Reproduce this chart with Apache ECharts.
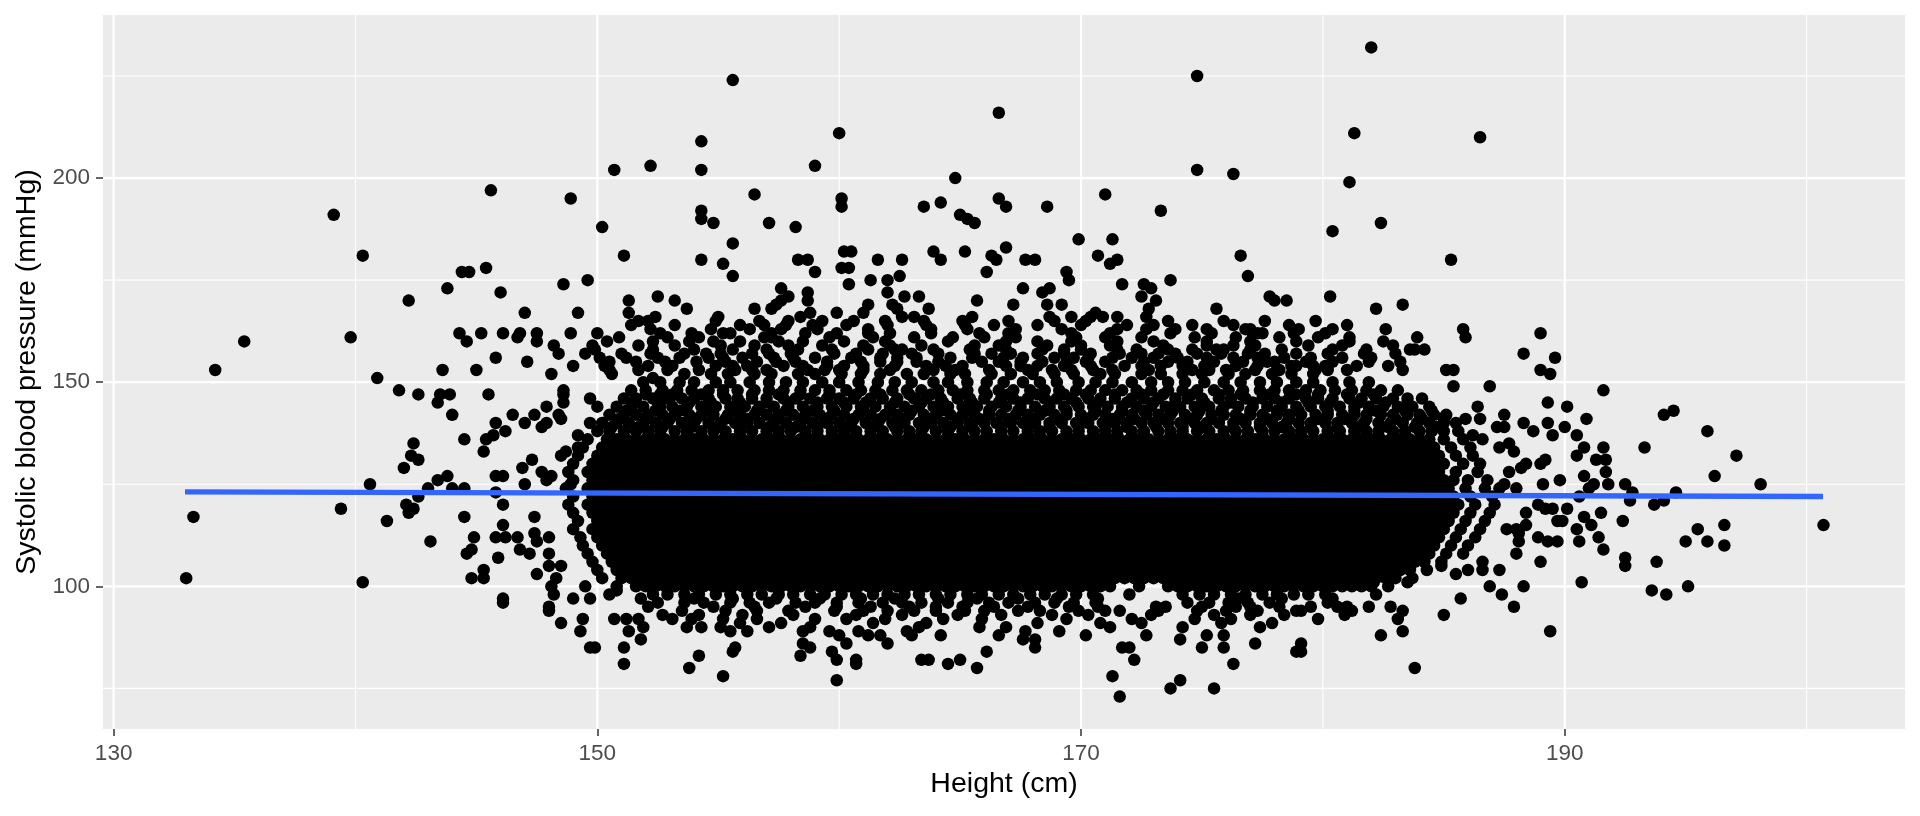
<!DOCTYPE html>
<html>
<head>
<meta charset="utf-8">
<title>Height vs systolic blood pressure</title>
<script src="https://cdn.jsdelivr.net/npm/echarts@6.0.0/dist/echarts.min.js"></script>
<style>
html, body { margin: 0; padding: 0; background: #ffffff; }
#chart { width: 1920px; height: 816px; }
</style>
</head>
<body>
<div id="chart"></div>
<script>
// axis extents and ticks (ggplot default 5% expansion)
var xMin = 129.56, xMax = 204.07;
var yMin = 65.05, yMax = 239.95;
var xMajor = [130, 150, 170, 190];
var xMinor = [140, 160, 180, 200];
var yMajor = [100, 150, 200];
var yMinor = [75, 125, 175, 225];

// least squares line, end points
var fitHeight = [132.95, 200.68];
var fitSbp = [123.15, 122.0];

// each row: [systolic bp, height, height, ...]
// sparse upper part of the cloud
var upperRows = [
  [232, 182.0],
  [225, 174.8],
  [224, 155.6],
  [216, 166.6],
  [211, 160.0, 181.3],
  [210, 186.5],
  [209, 154.3],
  [203, 152.2, 159.0],
  [202, 150.7, 154.3, 174.8],
  [201, 176.3],
  [200, 164.8],
  [199, 181.1],
  [197, 145.6],
  [196, 156.5, 171.0],
  [195, 148.9, 160.1, 166.6],
  [194, 164.2],
  [193, 160.1, 163.5, 166.9, 168.6],
  [192, 154.3, 173.3],
  [191, 139.1, 165.0],
  [190, 154.3, 165.3],
  [189, 154.8, 157.1, 165.6, 182.4],
  [188, 150.2, 158.2],
  [187, 180.4],
  [185, 169.9, 171.3],
  [184, 155.6],
  [183, 166.9],
  [182, 160.2, 160.5, 163.9, 165.2],
  [181, 140.3, 151.1, 166.3, 170.7, 176.6],
  [180, 154.3, 158.3, 158.7, 161.6, 162.6, 164.2, 166.5, 167.7, 168.1, 171.5, 185.3],
  [179, 155.2, 171.2],
  [178, 145.4, 160.1, 160.4],
  [177, 144.4, 144.7, 159.0, 166.1, 169.4],
  [176, 155.6, 162.5, 176.9],
  [175, 149.6, 161.3, 162.0, 169.5, 173.7],
  [174, 148.6, 160.4, 171.7, 172.6],
  [173, 143.8, 157.6, 167.6, 168.7, 172.9],
  [172, 146.0, 158.7, 162.0, 168.4],
  [171, 152.5, 157.9, 162.7, 163.3, 172.5, 177.8, 180.3],
  [170, 142.2, 151.3, 153.2, 157.6, 158.7, 165.7, 173.1, 178.0, 178.5],
  [169, 157.4, 161.2, 162.2, 167.2, 168.6, 169.2, 183.3],
  [168, 153.7, 156.5, 157.2, 162.4, 163.7, 172.8, 175.6, 182.2],
  [167, 147.0, 149.2, 151.3, 158.8, 159.9, 161.0, 170.6],
  [166, 152.4, 155.0, 158.4, 162.6, 163.1, 165.5, 168.7, 169.6, 170.4, 170.9, 171.5, 172.7],
  [165, 151.7, 152.1, 154.9, 156.7, 157.9, 159.3, 160.6, 161.9, 163.5, 165.1, 167.0, 168.9, 170.2, 173.6, 175.9, 177.6, 179.7],
  [164, 151.4, 153.2, 155.9, 156.9, 157.8, 158.9, 160.3, 162.0, 163.6, 165.2, 166.4, 168.2, 170.0, 171.9, 173.0, 174.6, 176.3, 178.6, 181.0],
  [163, 152.2, 154.7, 156.3, 157.6, 159.1, 161.2, 163.8, 165.3, 167.3, 169.2, 171.5, 172.7, 173.9, 175.2, 176.8, 177.0, 179.0, 180.4, 182.6, 185.8],
  [162, 144.3, 145.2, 146.1, 146.8, 147.5, 148.9, 150.0, 152.6, 153.9, 155.2, 155.5, 157.2, 158.6, 159.9, 161.2, 162.1, 163.8, 165.8, 167.0, 169.6, 171.2, 173.7, 175.4, 177.1, 177.3, 177.5, 178.8, 180.1, 189.0],
  [161, 139.8, 146.7, 150.9, 152.9, 154.2, 156.9, 157.2, 159.6, 161.4, 163.1, 164.7, 166.0, 167.3, 169.8, 171.0, 172.5, 174.7, 176.4, 178.2, 179.8, 181.1, 183.9, 185.9],
  [160, 135.4, 144.6, 147.5, 150.4, 152.3, 153.8, 154.8, 155.9, 157.5, 158.5, 160.2, 161.9, 164.5, 166.9, 168.2, 169.6, 171.5, 173.0, 175.2, 177.0, 178.9, 181.1, 182.5],
  [159, 148.2, 149.8, 151.7, 153.2, 155.1, 156.5, 157.9, 159.3, 161.0, 162.1, 163.4, 165.6, 166.6, 168.6, 170.0, 171.2, 173.4, 175.2, 176.3, 177.2, 179.4, 180.8, 182.9],
  [158, 149.9, 152.3, 154.0, 155.6, 157.0, 158.3, 159.7, 161.2, 162.3, 162.6, 163.9, 165.4, 166.9, 168.4, 169.3, 170.0, 171.5, 172.3, 173.6, 174.6, 175.6, 175.9, 177.0, 178.3, 180.4, 181.8, 183.6, 183.8, 184.2],
  [157, 148.4, 149.5, 151.0, 152.2, 153.6, 154.5, 155.1, 156.4, 157.1, 158.0, 159.8, 160.7, 161.8, 163.0, 164.1, 165.6, 166.3, 167.1, 168.2, 169.3, 170.4, 171.6, 172.5, 173.2, 173.9, 174.8, 175.8, 176.9, 177.6, 178.9, 180.2, 181.7, 183.0, 188.3],
  [156, 145.8, 150.1, 151.2, 152.5, 153.4, 154.6, 155.2, 156.0, 157.3, 158.1, 159.0, 160.5, 161.7, 162.4, 163.2, 164.6, 165.5, 166.8, 167.6, 168.9, 169.7, 170.3, 171.3, 172.1, 173.0, 174.0, 175.2, 176.3, 177.3, 178.4, 179.5, 180.8, 182.0, 189.6],
  [155, 147.1, 150.5, 151.6, 152.8, 154.1, 155.3, 156.6, 157.4, 158.2, 159.5, 160.9, 161.7, 162.4, 163.2, 164.1, 165.9, 166.6, 167.5, 168.4, 169.4, 170.2, 171.0, 172.6, 173.6, 174.4, 175.5, 176.7, 177.7, 178.0, 179.3, 180.4, 181.9, 183.2],
  [154, 149.0, 150.3, 152.1, 153.1, 154.9, 155.6, 156.2, 157.7, 158.5, 159.5, 160.2, 161.0, 162.3, 163.6, 164.4, 165.1, 166.9, 167.5, 168.2, 169.3, 170.4, 171.8, 172.5, 173.3, 174.2, 175.1, 176.4, 177.3, 178.7, 178.9, 179.6, 180.1, 181.4, 182.7],
  [153, 134.2, 143.6, 145.0, 150.5, 151.7, 152.9, 154.2, 155.7, 156.4, 157.0, 158.7, 159.4, 160.0, 161.0, 162.1, 163.9, 164.8, 166.2, 167.8, 168.8, 169.6, 170.5, 171.3, 172.8, 174.6, 175.3, 176.0, 177.2, 178.1, 178.2, 179.7, 180.2, 181.0, 183.3, 185.1, 185.4, 189.0]
];

// dense middle of the cloud (solid black in the picture, estimated)
var coreRows = [
  [152, 153.6, 154.7, 155.4, 156.5, 157.2, 158.3, 159.0, 160.1, 160.9, 161.7, 162.8, 163.5, 164.6, 165.2, 166.3, 167.1, 168.0, 168.9, 169.7, 170.8, 171.4, 172.5, 173.3, 174.2, 175.0, 176.1, 176.8, 177.9, 178.7, 179.6],
  [150, 151.9, 152.6, 153.4, 154.0, 154.9, 155.5, 156.3, 157.1, 157.8, 158.5, 159.3, 160.0, 160.8, 161.6, 162.3, 163.0, 163.9, 164.5, 165.3, 166.1, 166.8, 167.6, 168.3, 169.0, 169.9, 170.6, 171.3, 172.1, 172.9, 173.6, 174.3, 175.1, 175.9, 176.6, 177.4, 178.1, 178.9, 179.6, 180.4, 181.1, 181.9],
  [148, 151.4, 152.0, 152.7, 153.3, 153.9, 154.6, 155.2, 155.8, 156.5, 157.1, 157.7, 158.4, 159.0, 159.6, 160.3, 160.9, 161.5, 162.2, 162.8, 163.4, 164.1, 164.7, 165.3, 166.0, 166.6, 167.2, 167.9, 168.5, 169.1, 169.8, 170.4, 171.0, 171.7, 172.3, 172.9, 173.6, 174.2, 174.8, 175.5, 176.1, 176.7, 177.4, 178.0, 178.6, 179.3, 179.9, 180.5, 181.2, 181.8, 182.4, 183.1],
  [147, 152.0, 153.1, 154.3, 155.2, 156.4, 157.5, 158.4, 159.6, 160.7, 161.7, 162.9, 163.8, 165.0, 166.1, 167.0, 168.2, 169.3, 170.2, 171.4, 172.5, 173.4, 174.6, 175.7, 176.6, 177.8, 178.9, 179.8, 181.0, 182.1],
  [146, 151.1, 151.6, 152.3, 152.8, 153.5, 154.0, 154.6, 155.3, 155.8, 156.4, 157.0, 157.7, 158.2, 158.8, 159.5, 160.0, 160.6, 161.3, 161.8, 162.4, 163.1, 163.6, 164.2, 164.9, 165.4, 166.0, 166.7, 167.2, 167.8, 168.5, 169.0, 169.6, 170.3, 170.8, 171.4, 172.1, 172.6, 173.2, 173.9, 174.4, 175.0, 175.7, 176.2, 176.8, 177.5, 178.0, 178.6, 179.3, 179.8, 180.4, 181.1, 181.6, 182.2, 182.9, 183.5, 184.1],
  [145, 151.5, 152.5, 153.8, 154.7, 155.9, 157.0, 157.9, 159.1, 160.2, 161.1, 162.3, 163.4, 164.3, 165.5, 166.6, 167.5, 168.7, 169.8, 170.7, 171.9, 173.0, 173.9, 175.1, 176.2, 177.1, 178.3, 179.4, 180.3, 181.5, 182.6, 183.5],
  [144, 150.8, 151.4, 151.9, 152.6, 153.1, 153.7, 154.3, 154.9, 155.5, 156.1, 156.7, 157.3, 157.9, 158.5, 159.1, 159.7, 160.3, 160.9, 161.5, 162.1, 162.7, 163.3, 163.9, 164.5, 165.1, 165.7, 166.3, 166.9, 167.5, 168.1, 168.7, 169.3, 169.9, 170.5, 171.1, 171.7, 172.3, 172.9, 173.5, 174.1, 174.7, 175.3, 175.9, 176.5, 177.1, 177.7, 178.3, 178.9, 179.5, 180.1, 180.7, 181.3, 181.9, 182.5, 183.1, 183.7, 184.4],
  [143, 151.2, 152.4, 153.4, 154.5, 155.7, 156.6, 157.8, 158.9, 159.8, 161.0, 162.1, 163.0, 164.2, 165.3, 166.2, 167.4, 168.5, 169.4, 170.6, 171.7, 172.6, 173.8, 174.9, 175.8, 177.0, 178.1, 179.0, 180.2, 181.3, 182.2, 183.4, 184.5],
  [142, 150.5, 151.1, 151.6, 152.1, 152.7, 153.2, 153.8, 154.3, 154.8, 155.4, 155.9, 156.5, 157.0, 157.5, 158.1, 158.6, 159.2, 159.7, 160.2, 160.8, 161.3, 161.9, 162.4, 162.9, 163.5, 164.0, 164.6, 165.1, 165.6, 166.2, 166.7, 167.3, 167.8, 168.3, 168.9, 169.4, 170.0, 170.5, 171.0, 171.6, 172.1, 172.7, 173.2, 173.7, 174.3, 174.8, 175.4, 175.9, 176.4, 177.0, 177.5, 178.1, 178.6, 179.1, 179.7, 180.2, 180.8, 181.3, 181.8, 182.4, 182.9, 183.5, 184.0, 184.6, 185.1],
  [141, 150.9, 152.0, 153.0, 154.1, 155.3, 156.2, 157.4, 158.5, 159.4, 160.6, 161.7, 162.6, 163.8, 164.9, 165.8, 167.0, 168.1, 169.0, 170.2, 171.3, 172.2, 173.4, 174.5, 175.4, 176.6, 177.7, 178.6, 179.8, 180.9, 181.8, 183.0, 184.1, 185.0],
  [140, 150.2, 150.8, 151.3, 151.9, 152.4, 152.9, 153.5, 154.0, 154.6, 155.1, 155.7, 156.2, 156.7, 157.3, 157.8, 158.4, 158.9, 159.5, 160.0, 160.5, 161.1, 161.6, 162.2, 162.7, 163.3, 163.8, 164.3, 164.9, 165.4, 166.0, 166.5, 167.1, 167.6, 168.1, 168.7, 169.2, 169.8, 170.3, 170.9, 171.4, 171.9, 172.5, 173.0, 173.6, 174.1, 174.7, 175.2, 175.7, 176.3, 176.8, 177.4, 177.9, 178.5, 179.0, 179.5, 180.1, 180.6, 181.2, 181.7, 182.3, 182.8, 183.3, 183.9, 184.4, 185.0, 185.5],
  [139, 150.6, 151.7, 152.7, 153.9, 155.0, 155.9, 157.1, 158.2, 159.1, 160.3, 161.4, 162.3, 163.5, 164.6, 165.5, 166.7, 167.8, 168.7, 169.9, 171.0, 171.9, 173.1, 174.2, 175.1, 176.3, 177.4, 178.3, 179.5, 180.6, 181.5, 182.7, 183.8, 184.7],
  [138, 150.0, 150.5, 151.1, 151.6, 152.1, 152.6, 153.2, 153.7, 154.3, 154.8, 155.3, 155.9, 156.4, 157.0, 157.5, 158.0, 158.6, 159.1, 159.7, 160.2, 160.7, 161.3, 161.8, 162.4, 162.9, 163.4, 164.0, 164.5, 165.1, 165.6, 166.1, 166.7, 167.2, 167.8, 168.3, 168.8, 169.4, 169.9, 170.5, 171.0, 171.5, 172.1, 172.6, 173.2, 173.7, 174.2, 174.8, 175.3, 175.9, 176.4, 176.9, 177.5, 178.0, 178.6, 179.1, 179.6, 180.2, 180.7, 181.3, 181.8, 182.3, 182.9, 183.4, 184.0, 184.5, 185.0, 185.6],
  [136, 150.4, 150.8, 151.2, 151.6, 152.0, 152.4, 152.8, 153.2, 153.6, 154.0, 154.4, 154.8, 155.2, 155.6, 156.0, 156.4, 156.8, 157.2, 157.6, 158.0, 158.4, 158.8, 159.2, 159.6, 160.0, 160.4, 160.8, 161.2, 161.6, 162.0, 162.4, 162.8, 163.2, 163.6, 164.0, 164.4, 164.8, 165.2, 165.6, 166.0, 166.4, 166.8, 167.2, 167.6, 168.0, 168.4, 168.8, 169.2, 169.6, 170.0, 170.4, 170.8, 171.2, 171.6, 172.0, 172.4, 172.8, 173.2, 173.6, 174.0, 174.4, 174.8, 175.2, 175.6, 176.0, 176.4, 176.8, 177.2, 177.6, 178.0, 178.4, 178.8, 179.2, 179.6, 180.0, 180.4, 180.8, 181.2, 181.6, 182.0, 182.4, 182.8, 183.2, 183.6, 184.0, 184.4],
  [134, 150.2, 150.6, 151.0, 151.4, 151.8, 152.2, 152.6, 153.0, 153.4, 153.8, 154.2, 154.6, 155.0, 155.4, 155.8, 156.2, 156.6, 157.0, 157.4, 157.8, 158.2, 158.6, 159.0, 159.4, 159.8, 160.2, 160.6, 161.0, 161.4, 161.8, 162.2, 162.6, 163.0, 163.4, 163.8, 164.2, 164.6, 165.0, 165.4, 165.8, 166.2, 166.6, 167.0, 167.4, 167.8, 168.2, 168.6, 169.0, 169.4, 169.8, 170.2, 170.6, 171.0, 171.4, 171.8, 172.2, 172.6, 173.0, 173.4, 173.8, 174.2, 174.6, 175.0, 175.4, 175.8, 176.2, 176.6, 177.0, 177.4, 177.8, 178.2, 178.6, 179.0, 179.4, 179.8, 180.2, 180.6, 181.0, 181.4, 181.8, 182.2, 182.6, 183.0, 183.4, 183.8, 184.2, 184.6],
  [132, 150.0, 150.4, 150.8, 151.2, 151.6, 152.0, 152.4, 152.8, 153.2, 153.6, 154.0, 154.4, 154.8, 155.2, 155.6, 156.0, 156.4, 156.8, 157.2, 157.6, 158.0, 158.4, 158.8, 159.2, 159.6, 160.0, 160.4, 160.8, 161.2, 161.6, 162.0, 162.4, 162.8, 163.2, 163.6, 164.0, 164.4, 164.8, 165.2, 165.6, 166.0, 166.4, 166.8, 167.2, 167.6, 168.0, 168.4, 168.8, 169.2, 169.6, 170.0, 170.4, 170.8, 171.2, 171.6, 172.0, 172.4, 172.8, 173.2, 173.6, 174.0, 174.4, 174.8, 175.2, 175.6, 176.0, 176.4, 176.8, 177.2, 177.6, 178.0, 178.4, 178.8, 179.2, 179.6, 180.0, 180.4, 180.8, 181.2, 181.6, 182.0, 182.4, 182.8, 183.2, 183.6, 184.0, 184.4, 184.8],
  [130, 149.8, 150.2, 150.6, 151.0, 151.4, 151.8, 152.2, 152.6, 153.0, 153.4, 153.8, 154.2, 154.6, 155.0, 155.4, 155.8, 156.2, 156.6, 157.0, 157.4, 157.8, 158.2, 158.6, 159.0, 159.4, 159.8, 160.2, 160.6, 161.0, 161.4, 161.8, 162.2, 162.6, 163.0, 163.4, 163.8, 164.2, 164.6, 165.0, 165.4, 165.8, 166.2, 166.6, 167.0, 167.4, 167.8, 168.2, 168.6, 169.0, 169.4, 169.8, 170.2, 170.6, 171.0, 171.4, 171.8, 172.2, 172.6, 173.0, 173.4, 173.8, 174.2, 174.6, 175.0, 175.4, 175.8, 176.2, 176.6, 177.0, 177.4, 177.8, 178.2, 178.6, 179.0, 179.4, 179.8, 180.2, 180.6, 181.0, 181.4, 181.8, 182.2, 182.6, 183.0, 183.4, 183.8, 184.2, 184.6, 185.0],
  [128, 149.6, 150.0, 150.4, 150.8, 151.2, 151.6, 152.0, 152.4, 152.8, 153.2, 153.6, 154.0, 154.4, 154.8, 155.2, 155.6, 156.0, 156.4, 156.8, 157.2, 157.6, 158.0, 158.4, 158.8, 159.2, 159.6, 160.0, 160.4, 160.8, 161.2, 161.6, 162.0, 162.4, 162.8, 163.2, 163.6, 164.0, 164.4, 164.8, 165.2, 165.6, 166.0, 166.4, 166.8, 167.2, 167.6, 168.0, 168.4, 168.8, 169.2, 169.6, 170.0, 170.4, 170.8, 171.2, 171.6, 172.0, 172.4, 172.8, 173.2, 173.6, 174.0, 174.4, 174.8, 175.2, 175.6, 176.0, 176.4, 176.8, 177.2, 177.6, 178.0, 178.4, 178.8, 179.2, 179.6, 180.0, 180.4, 180.8, 181.2, 181.6, 182.0, 182.4, 182.8, 183.2, 183.6, 184.0, 184.4, 184.8],
  [126, 149.8, 150.2, 150.6, 151.0, 151.4, 151.8, 152.2, 152.6, 153.0, 153.4, 153.8, 154.2, 154.6, 155.0, 155.4, 155.8, 156.2, 156.6, 157.0, 157.4, 157.8, 158.2, 158.6, 159.0, 159.4, 159.8, 160.2, 160.6, 161.0, 161.4, 161.8, 162.2, 162.6, 163.0, 163.4, 163.8, 164.2, 164.6, 165.0, 165.4, 165.8, 166.2, 166.6, 167.0, 167.4, 167.8, 168.2, 168.6, 169.0, 169.4, 169.8, 170.2, 170.6, 171.0, 171.4, 171.8, 172.2, 172.6, 173.0, 173.4, 173.8, 174.2, 174.6, 175.0, 175.4, 175.8, 176.2, 176.6, 177.0, 177.4, 177.8, 178.2, 178.6, 179.0, 179.4, 179.8, 180.2, 180.6, 181.0, 181.4, 181.8, 182.2, 182.6, 183.0, 183.4, 183.8, 184.2, 184.6, 185.0, 185.4],
  [124, 149.6, 150.0, 150.4, 150.8, 151.2, 151.6, 152.0, 152.4, 152.8, 153.2, 153.6, 154.0, 154.4, 154.8, 155.2, 155.6, 156.0, 156.4, 156.8, 157.2, 157.6, 158.0, 158.4, 158.8, 159.2, 159.6, 160.0, 160.4, 160.8, 161.2, 161.6, 162.0, 162.4, 162.8, 163.2, 163.6, 164.0, 164.4, 164.8, 165.2, 165.6, 166.0, 166.4, 166.8, 167.2, 167.6, 168.0, 168.4, 168.8, 169.2, 169.6, 170.0, 170.4, 170.8, 171.2, 171.6, 172.0, 172.4, 172.8, 173.2, 173.6, 174.0, 174.4, 174.8, 175.2, 175.6, 176.0, 176.4, 176.8, 177.2, 177.6, 178.0, 178.4, 178.8, 179.2, 179.6, 180.0, 180.4, 180.8, 181.2, 181.6, 182.0, 182.4, 182.8, 183.2, 183.6, 184.0, 184.4, 184.8, 185.2],
  [122, 149.8, 150.2, 150.6, 151.0, 151.4, 151.8, 152.2, 152.6, 153.0, 153.4, 153.8, 154.2, 154.6, 155.0, 155.4, 155.8, 156.2, 156.6, 157.0, 157.4, 157.8, 158.2, 158.6, 159.0, 159.4, 159.8, 160.2, 160.6, 161.0, 161.4, 161.8, 162.2, 162.6, 163.0, 163.4, 163.8, 164.2, 164.6, 165.0, 165.4, 165.8, 166.2, 166.6, 167.0, 167.4, 167.8, 168.2, 168.6, 169.0, 169.4, 169.8, 170.2, 170.6, 171.0, 171.4, 171.8, 172.2, 172.6, 173.0, 173.4, 173.8, 174.2, 174.6, 175.0, 175.4, 175.8, 176.2, 176.6, 177.0, 177.4, 177.8, 178.2, 178.6, 179.0, 179.4, 179.8, 180.2, 180.6, 181.0, 181.4, 181.8, 182.2, 182.6, 183.0, 183.4, 183.8, 184.2, 184.6, 185.0, 185.4],
  [120, 149.6, 150.0, 150.4, 150.8, 151.2, 151.6, 152.0, 152.4, 152.8, 153.2, 153.6, 154.0, 154.4, 154.8, 155.2, 155.6, 156.0, 156.4, 156.8, 157.2, 157.6, 158.0, 158.4, 158.8, 159.2, 159.6, 160.0, 160.4, 160.8, 161.2, 161.6, 162.0, 162.4, 162.8, 163.2, 163.6, 164.0, 164.4, 164.8, 165.2, 165.6, 166.0, 166.4, 166.8, 167.2, 167.6, 168.0, 168.4, 168.8, 169.2, 169.6, 170.0, 170.4, 170.8, 171.2, 171.6, 172.0, 172.4, 172.8, 173.2, 173.6, 174.0, 174.4, 174.8, 175.2, 175.6, 176.0, 176.4, 176.8, 177.2, 177.6, 178.0, 178.4, 178.8, 179.2, 179.6, 180.0, 180.4, 180.8, 181.2, 181.6, 182.0, 182.4, 182.8, 183.2, 183.6, 184.0, 184.4, 184.8, 185.2, 185.6],
  [118, 149.8, 150.2, 150.6, 151.0, 151.4, 151.8, 152.2, 152.6, 153.0, 153.4, 153.8, 154.2, 154.6, 155.0, 155.4, 155.8, 156.2, 156.6, 157.0, 157.4, 157.8, 158.2, 158.6, 159.0, 159.4, 159.8, 160.2, 160.6, 161.0, 161.4, 161.8, 162.2, 162.6, 163.0, 163.4, 163.8, 164.2, 164.6, 165.0, 165.4, 165.8, 166.2, 166.6, 167.0, 167.4, 167.8, 168.2, 168.6, 169.0, 169.4, 169.8, 170.2, 170.6, 171.0, 171.4, 171.8, 172.2, 172.6, 173.0, 173.4, 173.8, 174.2, 174.6, 175.0, 175.4, 175.8, 176.2, 176.6, 177.0, 177.4, 177.8, 178.2, 178.6, 179.0, 179.4, 179.8, 180.2, 180.6, 181.0, 181.4, 181.8, 182.2, 182.6, 183.0, 183.4, 183.8, 184.2, 184.6, 185.0, 185.4],
  [116, 150.0, 150.4, 150.8, 151.2, 151.6, 152.0, 152.4, 152.8, 153.2, 153.6, 154.0, 154.4, 154.8, 155.2, 155.6, 156.0, 156.4, 156.8, 157.2, 157.6, 158.0, 158.4, 158.8, 159.2, 159.6, 160.0, 160.4, 160.8, 161.2, 161.6, 162.0, 162.4, 162.8, 163.2, 163.6, 164.0, 164.4, 164.8, 165.2, 165.6, 166.0, 166.4, 166.8, 167.2, 167.6, 168.0, 168.4, 168.8, 169.2, 169.6, 170.0, 170.4, 170.8, 171.2, 171.6, 172.0, 172.4, 172.8, 173.2, 173.6, 174.0, 174.4, 174.8, 175.2, 175.6, 176.0, 176.4, 176.8, 177.2, 177.6, 178.0, 178.4, 178.8, 179.2, 179.6, 180.0, 180.4, 180.8, 181.2, 181.6, 182.0, 182.4, 182.8, 183.2, 183.6, 184.0, 184.4, 184.8, 185.2],
  [114, 149.8, 150.2, 150.6, 151.0, 151.4, 151.8, 152.2, 152.6, 153.0, 153.4, 153.8, 154.2, 154.6, 155.0, 155.4, 155.8, 156.2, 156.6, 157.0, 157.4, 157.8, 158.2, 158.6, 159.0, 159.4, 159.8, 160.2, 160.6, 161.0, 161.4, 161.8, 162.2, 162.6, 163.0, 163.4, 163.8, 164.2, 164.6, 165.0, 165.4, 165.8, 166.2, 166.6, 167.0, 167.4, 167.8, 168.2, 168.6, 169.0, 169.4, 169.8, 170.2, 170.6, 171.0, 171.4, 171.8, 172.2, 172.6, 173.0, 173.4, 173.8, 174.2, 174.6, 175.0, 175.4, 175.8, 176.2, 176.6, 177.0, 177.4, 177.8, 178.2, 178.6, 179.0, 179.4, 179.8, 180.2, 180.6, 181.0, 181.4, 181.8, 182.2, 182.6, 183.0, 183.4, 183.8, 184.2, 184.6, 185.0],
  [112, 150.0, 150.4, 150.8, 151.2, 151.6, 152.0, 152.4, 152.8, 153.2, 153.6, 154.0, 154.4, 154.8, 155.2, 155.6, 156.0, 156.4, 156.8, 157.2, 157.6, 158.0, 158.4, 158.8, 159.2, 159.6, 160.0, 160.4, 160.8, 161.2, 161.6, 162.0, 162.4, 162.8, 163.2, 163.6, 164.0, 164.4, 164.8, 165.2, 165.6, 166.0, 166.4, 166.8, 167.2, 167.6, 168.0, 168.4, 168.8, 169.2, 169.6, 170.0, 170.4, 170.8, 171.2, 171.6, 172.0, 172.4, 172.8, 173.2, 173.6, 174.0, 174.4, 174.8, 175.2, 175.6, 176.0, 176.4, 176.8, 177.2, 177.6, 178.0, 178.4, 178.8, 179.2, 179.6, 180.0, 180.4, 180.8, 181.2, 181.6, 182.0, 182.4, 182.8, 183.2, 183.6, 184.0, 184.4, 184.8],
  [110, 150.2, 150.6, 151.0, 151.4, 151.8, 152.2, 152.6, 153.0, 153.4, 153.8, 154.2, 154.6, 155.0, 155.4, 155.8, 156.2, 156.6, 157.0, 157.4, 157.8, 158.2, 158.6, 159.0, 159.4, 159.8, 160.2, 160.6, 161.0, 161.4, 161.8, 162.2, 162.6, 163.0, 163.4, 163.8, 164.2, 164.6, 165.0, 165.4, 165.8, 166.2, 166.6, 167.0, 167.4, 167.8, 168.2, 168.6, 169.0, 169.4, 169.8, 170.2, 170.6, 171.0, 171.4, 171.8, 172.2, 172.6, 173.0, 173.4, 173.8, 174.2, 174.6, 175.0, 175.4, 175.8, 176.2, 176.6, 177.0, 177.4, 177.8, 178.2, 178.6, 179.0, 179.4, 179.8, 180.2, 180.6, 181.0, 181.4, 181.8, 182.2, 182.6, 183.0, 183.4, 183.8, 184.2, 184.6],
  [108, 150.4, 150.8, 151.2, 151.6, 152.0, 152.4, 152.8, 153.2, 153.6, 154.0, 154.4, 154.8, 155.2, 155.6, 156.0, 156.4, 156.8, 157.2, 157.6, 158.0, 158.4, 158.8, 159.2, 159.6, 160.0, 160.4, 160.8, 161.2, 161.6, 162.0, 162.4, 162.8, 163.2, 163.6, 164.0, 164.4, 164.8, 165.2, 165.6, 166.0, 166.4, 166.8, 167.2, 167.6, 168.0, 168.4, 168.8, 169.2, 169.6, 170.0, 170.4, 170.8, 171.2, 171.6, 172.0, 172.4, 172.8, 173.2, 173.6, 174.0, 174.4, 174.8, 175.2, 175.6, 176.0, 176.4, 176.8, 177.2, 177.6, 178.0, 178.4, 178.8, 179.2, 179.6, 180.0, 180.4, 180.8, 181.2, 181.6, 182.0, 182.4, 182.8, 183.2, 183.6, 184.0, 184.4],
  [106, 150.6, 151.0, 151.4, 151.8, 152.2, 152.6, 153.0, 153.4, 153.8, 154.2, 154.6, 155.0, 155.4, 155.8, 156.2, 156.6, 157.0, 157.4, 157.8, 158.2, 158.6, 159.0, 159.4, 159.8, 160.2, 160.6, 161.0, 161.4, 161.8, 162.2, 162.6, 163.0, 163.4, 163.8, 164.2, 164.6, 165.0, 165.4, 165.8, 166.2, 166.6, 167.0, 167.4, 167.8, 168.2, 168.6, 169.0, 169.4, 169.8, 170.2, 170.6, 171.0, 171.4, 171.8, 172.2, 172.6, 173.0, 173.4, 173.8, 174.2, 174.6, 175.0, 175.4, 175.8, 176.2, 176.6, 177.0, 177.4, 177.8, 178.2, 178.6, 179.0, 179.4, 179.8, 180.2, 180.6, 181.0, 181.4, 181.8, 182.2, 182.6, 183.0, 183.4, 183.8, 184.2],
  [104, 150.8, 151.2, 151.6, 152.0, 152.4, 152.8, 153.2, 153.6, 154.0, 154.4, 154.8, 155.2, 155.6, 156.0, 156.4, 156.8, 157.2, 157.6, 158.0, 158.4, 158.8, 159.2, 159.6, 160.0, 160.4, 160.8, 161.2, 161.6, 162.0, 162.4, 162.8, 163.2, 163.6, 164.0, 164.4, 164.8, 165.2, 165.6, 166.0, 166.4, 166.8, 167.2, 167.6, 168.0, 168.4, 168.8, 169.2, 169.6, 170.0, 170.4, 170.8, 171.2, 171.6, 172.0, 172.4, 172.8, 173.2, 173.6, 174.0, 174.4, 174.8, 175.2, 175.6, 176.0, 176.4, 176.8, 177.2, 177.6, 178.0, 178.4, 178.8, 179.2, 179.6, 180.0, 180.4, 180.8, 181.2, 181.6, 182.0, 182.4, 182.8, 183.2, 183.6],
  [102, 151.0, 151.4, 151.8, 152.2, 152.6, 153.0, 153.4, 153.8, 154.2, 154.6, 155.0, 155.4, 155.8, 156.2, 156.6, 157.0, 157.4, 157.8, 158.2, 158.6, 159.0, 159.4, 159.8, 160.2, 160.6, 161.0, 161.4, 161.8, 162.2, 162.6, 163.0, 163.4, 163.8, 164.2, 164.6, 165.0, 165.4, 165.8, 166.2, 166.6, 167.0, 167.4, 167.8, 168.2, 168.6, 169.0, 169.4, 169.8, 170.2, 170.6, 171.0, 171.4, 171.8, 172.2, 172.6, 173.0, 173.4, 173.8, 174.2, 174.6, 175.0, 175.4, 175.8, 176.2, 176.6, 177.0, 177.4, 177.8, 178.2, 178.6, 179.0, 179.4, 179.8, 180.2, 180.6, 181.0, 181.4, 181.8, 182.2, 182.6, 183.0],
  [100, 151.6, 152.0, 152.4, 152.8, 153.2, 153.6, 154.0, 154.4, 154.8, 155.2, 155.6, 156.0, 156.4, 156.8, 157.2, 157.6, 158.0, 158.4, 158.8, 159.2, 159.6, 160.0, 160.4, 160.8, 161.2, 161.6, 162.0, 162.4, 162.8, 163.2, 163.6, 164.0, 164.4, 164.8, 165.2, 165.6, 166.0, 166.4, 166.8, 167.2, 167.6, 168.0, 168.4, 168.8, 169.2, 169.6, 170.0, 170.4, 170.8, 171.2, 172.4, 173.6, 174.0, 174.4, 174.8, 175.2, 175.6, 176.0, 176.4, 176.8, 177.2, 177.6, 178.0, 178.4, 178.8, 179.2, 179.6, 180.0, 180.4, 180.8, 181.2, 181.6, 182.0],
  [98, 152.3, 152.9, 153.6, 154.2, 154.9, 155.5, 156.2, 156.8, 157.5, 158.1, 158.8, 159.4, 160.1, 160.7, 161.4, 162.0, 162.7, 163.3, 164.0, 164.6, 165.3, 165.9, 166.6, 167.2, 167.9, 168.5, 169.2, 169.8, 170.5, 172.0, 174.2, 174.9, 175.5, 176.2, 176.8, 177.5, 178.1, 178.8, 179.4, 180.1],
  [96, 153.6, 154.4, 155.5, 156.3, 157.1, 158.2, 159.0, 159.9, 160.8, 161.8, 162.6, 163.4, 164.5, 165.3, 166.2, 167.0, 168.1, 168.9, 169.7, 170.6, 174.4, 175.3, 176.1, 176.9, 177.8]
];

// ragged left / right edges of the cloud
var edgeRows = [
  [152, 148.1, 150.6, 189.4],
  [151, 140.9, 152.3],
  [149, 185.4, 186.9],
  [148, 141.8, 148.6, 191.6],
  [147, 142.6, 143.5, 143.9, 145.5, 148.6, 152.6],
  [146, 149.7, 153.0],
  [145, 143.4, 148.6, 189.3],
  [144, 147.9, 150.0, 186.4, 190.1],
  [143, 194.5],
  [142, 144.0, 146.5, 147.4, 148.4, 187.5, 194.1],
  [141, 148.5, 185.9, 186.5, 190.9],
  [140, 145.8, 147.0, 147.9, 149.7, 188.3, 189.3],
  [139, 147.7, 187.2, 187.5, 190.0],
  [138, 146.2, 188.7, 195.9],
  [137, 145.7, 149.2, 186.2, 189.5, 190.5],
  [136, 144.5, 145.4, 149.6, 185.0, 185.8, 186.6],
  [135, 142.4, 187.7],
  [134, 149.2, 149.4, 185.3, 186.1, 187.3, 190.8, 191.6, 193.3],
  [133, 145.3, 148.7, 187.9],
  [132, 142.3, 148.5, 149.2, 185.5, 186.2, 190.5, 197.1],
  [131, 142.6, 147.3, 189.2, 191.3, 191.7],
  [130, 149.0, 185.8, 186.5, 188.4, 189.0],
  [129, 142.0, 146.9, 188.2],
  [128, 147.7, 148.8, 185.5, 186.4, 187.7, 191.7],
  [127, 143.8, 145.8, 146.1, 148.1, 190.8, 196.2],
  [126, 143.4, 147.9, 149.0, 186.0, 186.8, 189.8],
  [125, 140.6, 147.0, 148.9, 187.5, 189.1, 191.2, 191.8, 192.5, 198.1],
  [124, 143.0, 144.0, 144.5, 148.7, 185.9, 186.7, 187.3, 188.0, 191.0],
  [123, 145.8, 192.8, 194.6],
  [122, 142.6, 149.0, 186.1, 187.0, 190.6],
  [121, 192.7, 194.1],
  [120, 142.1, 146.1, 148.8, 186.3, 187.1, 188.9, 193.7],
  [119, 139.4, 142.4, 189.2, 189.5, 190.1],
  [118, 142.2, 149.0, 186.1, 186.9, 188.4, 191.5],
  [117, 133.3, 144.5, 147.4, 190.8],
  [116, 141.3, 149.2, 185.9, 186.7, 189.7, 189.9, 192.4],
  [115, 146.1, 188.4, 191.1, 196.6, 200.7],
  [114, 149.0, 185.7, 186.5, 187.6, 188.0, 190.5, 195.5],
  [113, 147.4, 188.1],
  [112, 144.9, 145.8, 146.2, 146.7, 148.0, 149.3, 185.5, 186.3, 188.9, 191.4],
  [111, 143.1, 147.5, 188.1, 189.3, 189.7, 190.6, 195.0, 195.9],
  [110, 149.4, 185.3, 186.0, 196.6],
  [109, 144.8, 146.8, 191.6],
  [108, 144.6, 147.2, 148.0, 149.6, 185.1, 185.8, 188.0],
  [107, 145.9, 192.5],
  [106, 149.8, 184.9, 186.6, 189.0, 193.8],
  [105, 148.0, 148.5, 184.9, 192.5],
  [104, 145.3, 150.0, 184.3, 186.0, 186.6, 187.3],
  [103, 147.5, 185.5],
  [102, 133.0, 144.8, 145.3, 148.3, 150.2, 183.7],
  [101, 140.3, 182.1, 183.5, 190.7],
  [100, 148.1, 149.5, 150.8, 182.7, 186.9, 188.3, 195.1],
  [99, 150.8, 193.6],
  [98, 148.2, 150.5, 182.2, 187.4, 194.2],
  [97, 146.1, 149.0, 149.7, 151.8, 154.0, 155.6, 157.4, 159.2, 160.9, 162.3, 164.1, 165.7, 167.4, 169.0, 170.7, 176.5, 178.3, 180.4, 185.7],
  [96, 146.1, 152.5, 180.2]
];

// sparse lower part of the cloud
var lowerRows = [
  [95, 148.0, 152.1, 154.8, 156.5, 158.6, 159.9, 161.3, 162.9, 164.0, 165.1, 166.4, 167.8, 169.5, 170.7, 173.1, 173.5, 175.0, 176.4, 177.0, 178.2, 179.5, 180.6, 181.0, 181.9, 182.8, 187.9],
  [94, 148.0, 153.5, 155.3, 156.6, 157.9, 159.8, 161.0, 162.0, 163.1, 164.0, 165.2, 166.0, 167.4, 168.3, 169.9, 171.0, 171.6, 173.2, 174.8, 176.0, 177.3, 178.9, 179.1, 181.2, 183.3],
  [93, 152.7, 154.2, 156.0, 158.1, 160.7, 162.6, 164.9, 166.7, 168.8, 170.3, 172.9, 175.5, 177.0, 178.4, 180.9, 185.0],
  [92, 149.4, 150.7, 151.2, 151.7, 153.1, 153.9, 155.2, 156.6, 159.0, 160.3, 161.9, 164.3, 165.9, 169.4, 172.1, 174.7, 176.2, 179.8, 183.1],
  [91, 148.5, 155.9, 157.6, 161.4, 163.6, 168.2, 170.8, 172.5, 175.8, 177.9],
  [90, 151.9, 153.7, 154.3, 155.1, 157.1, 158.8, 163.3, 165.8, 166.9, 171.2, 174.2, 177.4],
  [89, 149.3, 151.3, 155.5, 156.2, 158.5, 159.6, 160.8, 162.8, 167.7, 169.1, 183.3, 189.4],
  [88, 160.0, 161.2, 161.7, 163.0, 164.2, 166.6, 170.2, 172.7, 175.2, 175.9, 182.4],
  [87, 151.8, 167.6, 168.1, 174.1],
  [86, 158.5, 160.3, 162.0, 177.2, 179.1],
  [85, 149.7, 149.9, 151.1, 155.7, 158.8, 168.1, 171.7, 172.0, 175.0, 175.9],
  [84, 155.6, 159.7, 166.1, 178.9, 179.1],
  [83, 154.2, 158.4],
  [82, 159.9, 160.7, 163.4, 163.7, 165.0, 172.2],
  [81, 151.1, 160.7, 164.5, 176.3],
  [80, 153.8, 165.7, 183.8],
  [78, 155.2, 171.3],
  [77, 159.9, 174.1],
  [75, 173.7, 175.5],
  [73, 171.6]
];

var points = [];
[upperRows, coreRows, edgeRows, lowerRows].forEach(function (rows) {
  rows.forEach(function (row) {
    for (var i = 1; i < row.length; i++) {
      points.push([row[i], row[0]]);
    }
  });
});

var fitLine = fitHeight.map(function (h, i) { return [h, fitSbp[i]]; });

// panel grid lines as plain line series, kept underneath the points
function gridSeries(values, vertical, width) {
  return values.map(function (v) {
    return {
      type: 'line', silent: true, z: 0, showSymbol: false, animation: false,
      data: vertical ? [[v, yMin], [v, yMax]] : [[xMin, v], [xMax, v]],
      lineStyle: { color: '#FFFFFF', width: width },
      emphasis: { disabled: true }
    };
  });
}

var fontFamily = '"Liberation Sans", Arial, Helvetica, sans-serif';

var series = []
  .concat(gridSeries(xMinor, true, 1.1))
  .concat(gridSeries(yMinor, false, 1.1))
  .concat(gridSeries(xMajor, true, 2.2))
  .concat(gridSeries(yMajor, false, 2.2));

series.push({
  type: 'scatter', data: points, symbol: 'circle', symbolSize: 12.5,
  itemStyle: { color: '#000000', opacity: 1 },
  silent: true, z: 2, progressive: 0
});
series.push({
  type: 'line', data: fitLine, showSymbol: false, silent: true, z: 3,
  lineStyle: { color: '#3366FF', width: 5.3 }
});

var option = {
  animation: false,
  textStyle: { fontFamily: fontFamily },
  grid: {
    left: 103, right: 15, top: 15, bottom: 87,
    show: true, backgroundColor: '#EBEBEB', borderWidth: 0
  },
  xAxis: {
    type: 'value', min: xMin, max: xMax,
    axisLine: { show: false },
    splitLine: { show: false },
    axisTick: { show: true, customValues: xMajor, length: 7, lineStyle: { color: '#333333', width: 1.5 } },
    axisLabel: { customValues: xMajor, color: '#4D4D4D', fontSize: 22.5, margin: 13, fontFamily: fontFamily },
    name: 'Height (cm)', nameLocation: 'middle', nameGap: 41,
    nameTextStyle: { color: '#000000', fontSize: 28.5, fontFamily: fontFamily }
  },
  yAxis: {
    type: 'value', min: yMin, max: yMax,
    axisLine: { show: false },
    splitLine: { show: false },
    axisTick: { show: true, customValues: yMajor, length: 7, lineStyle: { color: '#333333', width: 1.5 } },
    axisLabel: { customValues: yMajor, color: '#4D4D4D', fontSize: 22.5, margin: 13, fontFamily: fontFamily },
    name: 'Systolic blood pressure (mmHg)', nameLocation: 'middle', nameGap: 60,
    nameTextStyle: { color: '#000000', fontSize: 28.5, fontFamily: fontFamily }
  },
  series: series
};

var myChart = echarts.init(document.getElementById('chart'));
myChart.setOption(option);
</script>
</body>
</html>
